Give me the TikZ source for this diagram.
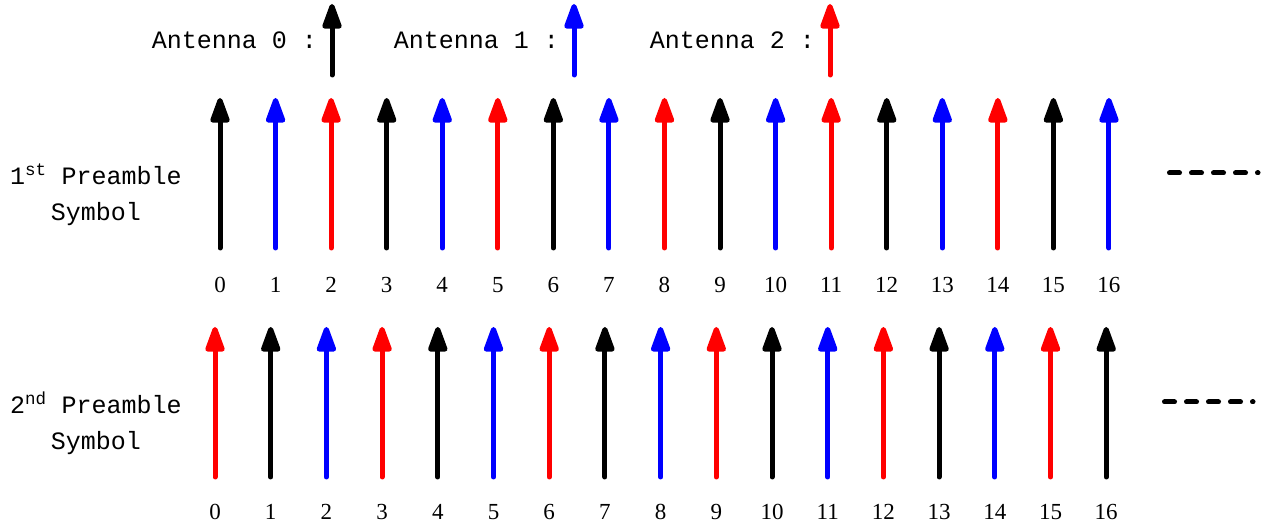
\documentclass[tikz,border=0pt]{standalone}
\usepackage{fontspec}
\setmonofont{Liberation Mono}
\setmainfont{Liberation Serif}
\usetikzlibrary{arrows.meta}
\tikzset{
	antarrow/.style={line width=5pt,line cap=round,-{Triangle[length=30pt,width=20pt,round=false]}},
	idx/.style={font=\fontsize{23}{26}\selectfont,inner sep=0pt},
	rowlabel/.style={font=\ttfamily\fontsize{25}{36}\selectfont,align=center,inner sep=0pt},
	legend/.style={font=\ttfamily\fontsize{25}{30}\selectfont,inner sep=0pt,anchor=east},
	more/.style={line width=5pt,line cap=round,dash pattern=on 10pt off 12pt}
}
\begin{document}
\begin{tikzpicture}[x=1pt,y=1pt]
	\useasboundingbox (0,0) rectangle (1276,524);
	% legend
	\foreach \a/\col/\xa in {0/black/332,1/blue/574,2/red/830} {
		\coordinate (lb\a) at (\xa,449);
		\coordinate (lt\a) at (\xa,520);
		\draw[antarrow,\col] (lb\a) -- (lt\a);
		\node[legend] (lg\a) at ([xshift=-15pt]\xa,484) {Antenna \a\ :};
	}
	% row labels
	\node[rowlabel] (sym1) at (96,329) {1\textsuperscript{st} Preamble\\Symbol};
	\node[rowlabel] (sym2) at (96,101) {2\textsuperscript{nd} Preamble\\Symbol};
	% 1st preamble symbol
	\foreach \k in {0,...,16} {
		\pgfmathtruncatemacro{\c}{mod(\k,3)}
		\ifcase\c \def\col{black}\or \def\col{blue}\or \def\col{red}\fi
		\coordinate (b1-\k) at (220+55.56*\k,276);
		\coordinate (t1-\k) at (220+55.56*\k,426);
		\draw[antarrow,\col] (b1-\k) -- (t1-\k);
		\node[idx] (n1-\k) at (220+55.56*\k,239) {\k};
	}
	% 2nd preamble symbol
	\foreach \k in {0,...,16} {
		\pgfmathtruncatemacro{\c}{mod(\k+2,3)}
		\ifcase\c \def\col{black}\or \def\col{blue}\or \def\col{red}\fi
		\coordinate (b2-\k) at (215+55.7*\k,47);
		\coordinate (t2-\k) at (215+55.7*\k,197);
		\draw[antarrow,\col] (b2-\k) -- (t2-\k);
		\node[idx] (n2-\k) at (215+55.7*\k,12) {\k};
	}
	% continuation
	\coordinate (d1s) at (1169.5,351);
	\coordinate (d1e) at (1258,351);
	\coordinate (d2s) at (1164.5,122);
	\coordinate (d2e) at (1253,122);
	\draw[more] (d1s) -- (d1e);
	\draw[more] (d2s) -- (d2e);
\end{tikzpicture}
\end{document}
